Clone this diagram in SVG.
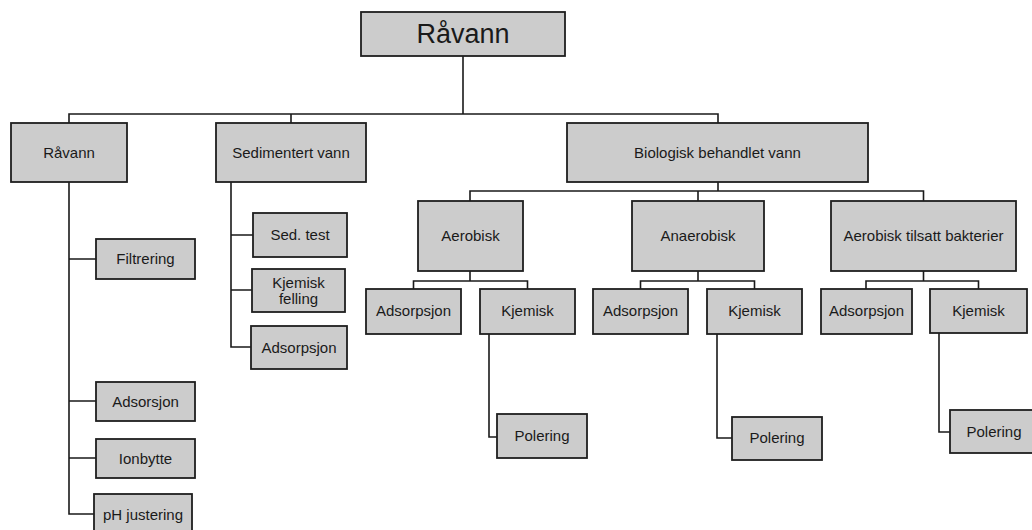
<svg xmlns="http://www.w3.org/2000/svg" width="1032" height="530" viewBox="0 0 1032 530">
<style>
.box{fill:#cccccc;stroke:#1e1e1e;stroke-width:1.8}
.t{font-family:"Liberation Sans",Arial,sans-serif;font-size:15px;fill:#1a1a1a;text-anchor:middle}
.big{font-size:27px}
.c{fill:none;stroke:#1a1a1a;stroke-width:1.6}
</style>
<rect width="1032" height="530" fill="#ffffff"/>
<g id="connectors">
<path class="c" d="M463 56V114M69 123V114H718V123M291 114V123"/>
<path class="c" d="M69 182V514H94M69 259H96M69 401H96M69 458H96"/>
<path class="c" d="M231 182V347H251M231 235H253M231 290H252"/>
<path class="c" d="M718 182V191M470 201V191H923.5V201M698 191V201"/>
<path class="c" d="M470 271V281M413.5 289V281H527.5V289"/>
<path class="c" d="M698 271V281M640.5 289V281H754.5V289"/>
<path class="c" d="M923.5 271V281M866 289V281H978.5V289"/>
<path class="c" d="M489 334V437H497"/>
<path class="c" d="M717 334V438H732"/>
<path class="c" d="M939 333V432H950"/>
</g>
<g id="root"><rect class="box" x="361" y="12" width="204" height="44"/><text class="t big" x="463" y="43">Råvann</text></g>
<g id="ravann"><rect class="box" x="11" y="123" width="116" height="59"/><text class="t" x="69" y="158">Råvann</text></g>
<g id="sedimentert"><rect class="box" x="216" y="123" width="150" height="59"/><text class="t" x="291" y="158">Sedimentert vann</text></g>
<g id="biologisk"><rect class="box" x="567" y="123" width="301" height="59"/><text class="t" x="717.5" y="158">Biologisk behandlet vann</text></g>
<g id="aerobisk"><rect class="box" x="418" y="201" width="105" height="70"/><text class="t" x="470.5" y="241">Aerobisk</text></g>
<g id="anaerobisk"><rect class="box" x="632" y="201" width="132" height="70"/><text class="t" x="698" y="241">Anaerobisk</text></g>
<g id="aerobisk-tilsatt"><rect class="box" x="831" y="201" width="185" height="70"/><text class="t" x="923.5" y="241">Aerobisk tilsatt bakterier</text></g>
<g id="adsorpsjon-1"><rect class="box" x="366" y="289" width="95" height="45"/><text class="t" x="413.5" y="316">Adsorpsjon</text></g>
<g id="kjemisk-1"><rect class="box" x="480" y="289" width="95" height="45"/><text class="t" x="527.5" y="316">Kjemisk</text></g>
<g id="polering-1"><rect class="box" x="497" y="414" width="90" height="44"/><text class="t" x="542" y="441">Polering</text></g>
<g id="adsorpsjon-2"><rect class="box" x="593" y="289" width="95" height="45"/><text class="t" x="640.5" y="316">Adsorpsjon</text></g>
<g id="kjemisk-2"><rect class="box" x="707" y="289" width="95" height="45"/><text class="t" x="754.5" y="316">Kjemisk</text></g>
<g id="polering-2"><rect class="box" x="732" y="417" width="90" height="43"/><text class="t" x="777" y="443">Polering</text></g>
<g id="adsorpsjon-3"><rect class="box" x="821" y="289" width="91" height="45"/><text class="t" x="866.5" y="316">Adsorpsjon</text></g>
<g id="kjemisk-3"><rect class="box" x="930" y="289" width="97" height="44"/><text class="t" x="978.5" y="316">Kjemisk</text></g>
<g id="polering-3"><rect class="box" x="950" y="410" width="88" height="43"/><text class="t" x="994" y="437">Polering</text></g>
<g id="filtrering"><rect class="box" x="96" y="239" width="99" height="40"/><text class="t" x="145.5" y="264">Filtrering</text></g>
<g id="adsorsjon"><rect class="box" x="96" y="382" width="99" height="39"/><text class="t" x="145.5" y="406.5">Adsorsjon</text></g>
<g id="ionbytte"><rect class="box" x="96" y="439" width="99" height="39"/><text class="t" x="145.5" y="463.5">Ionbytte</text></g>
<g id="ph-justering"><rect class="box" x="94" y="494" width="98" height="44"/><text class="t" x="143" y="519.5">pH justering</text></g>
<g id="sed-test"><rect class="box" x="253" y="213" width="94" height="44"/><text class="t" x="300" y="240">Sed. test</text></g>
<g id="kjemisk-felling"><rect class="box" x="252" y="269" width="93" height="43"/><text class="t" x="298.5" y="287.5">Kjemisk</text><text class="t" x="298.5" y="303.5">felling</text></g>
<g id="adsorpsjon-s"><rect class="box" x="251" y="326" width="96" height="43"/><text class="t" x="299" y="352.5">Adsorpsjon</text></g>
</svg>
